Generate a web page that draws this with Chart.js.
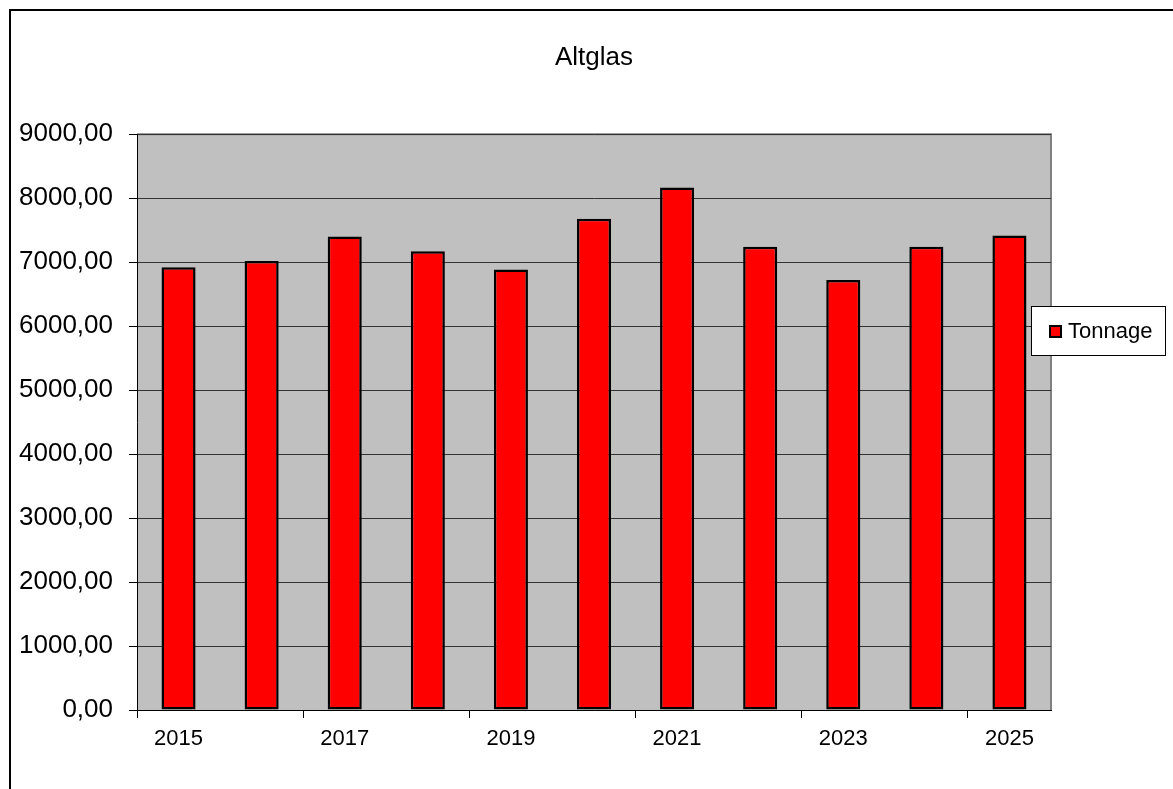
<!DOCTYPE html>
<html>
<head>
<meta charset="utf-8">
<title>Altglas</title>
<script src="https://cdn.jsdelivr.net/npm/chart.js@4.4.1/dist/chart.umd.min.js"></script>
<style>
  html, body { margin: 0; padding: 0; background: #fff; overflow: hidden; }
  #wrap { position: absolute; left: 0; top: 0; width: 1173px; height: 789px; }
</style>
</head>
<body>
<div id="wrap"><canvas id="chart"></canvas></div>
<script>
// Daten
const jahre = ['2015', '2016', '2017', '2018', '2019', '2020', '2021', '2022', '2023', '2024', '2025'];
const tonnage = [6920, 7020, 7400, 7170, 6885, 7680, 8165, 7240, 6720, 7240, 7415];
const yTicks = [0, 1000, 2000, 3000, 4000, 5000, 6000, 7000, 8000, 9000];

const schrift = "'Liberation Sans', Arial, sans-serif";

// Grauer Zeichenbereich + Rahmen
const hintergrund = {
    id: 'hintergrund',
    beforeDraw(chart) {
        const { ctx, chartArea: a } = chart;
        ctx.save();
        ctx.fillStyle = '#fff';
        ctx.fillRect(0, 0, chart.width, chart.height);
        ctx.strokeStyle = '#000';
        ctx.lineWidth = 2;
        ctx.strokeRect(10, 10, 3000, 3000);
        ctx.fillStyle = '#C0C0C0';
        ctx.fillRect(a.left, a.top, a.right - a.left, a.bottom - a.top);
        ctx.strokeStyle = '#808080';
        ctx.lineWidth = 2;
        ctx.beginPath();
        ctx.moveTo(a.left, a.top);
        ctx.lineTo(a.right, a.top);
        ctx.lineTo(a.right, a.bottom);
        ctx.stroke();
        ctx.restore();
    }
};

// Legende mit Rahmen rechts
const legende = {
    id: 'legende',
    afterDraw(chart) {
        const { ctx } = chart;
        const ds = chart.data.datasets[0];
        ctx.save();
        ctx.fillStyle = '#fff';
        ctx.fillRect(1031, 306, 135, 50);
        ctx.strokeStyle = '#000';
        ctx.lineWidth = 1;
        ctx.strokeRect(1031.5, 306.5, 134, 49);
        ctx.fillStyle = ds.backgroundColor;
        ctx.fillRect(1049, 325, 13, 13);
        ctx.lineWidth = 2;
        ctx.strokeRect(1050, 326, 11, 11);
        ctx.fillStyle = '#000';
        ctx.font = '22px ' + schrift;
        ctx.textBaseline = 'middle';
        ctx.fillText(ds.label, 1068, 332);
        ctx.restore();
    }
};

new Chart(document.getElementById('chart').getContext('2d'), {
    type: 'bar',
    data: {
        labels: jahre,
        datasets: [{
            label: 'Tonnage',
            data: tonnage,
            backgroundColor: '#FF0000',
            borderColor: '#000000',
            borderWidth: 2.5,
            borderSkipped: false,
            barPercentage: 1,
            categoryPercentage: 0.41
        }]
    },
    options: {
        responsive: true,
        maintainAspectRatio: false,
        animation: false,
        layout: { padding: { left: 0, right: 122, top: 0, bottom: 0 } },
        plugins: {
            legend: { display: false },
            tooltip: { enabled: false },
            title: {
                display: true,
                text: 'Altglas',
                fullSize: false,
                color: '#000',
                font: { family: schrift, size: 26, weight: 'normal' },
                padding: { top: 42, bottom: 61 }
            }
        },
        scales: {
            x: {
                offset: true,
                afterFit(scale) { scale.height = 79; },
                grid: {
                    offset: true,
                    drawOnChartArea: false,
                    tickLength: 8,
                    tickColor: (c) => (c.index % 2 === 0 ? '#000' : 'rgba(0,0,0,0)')
                },
                border: { color: '#000', width: 1 },
                ticks: {
                    autoSkip: false,
                    maxRotation: 0,
                    padding: 8,
                    color: '#000',
                    font: { family: schrift, size: 22 },
                    callback: (v, i) => (i % 2 === 0 ? jahre[i] : '')
                }
            },
            y: {
                min: yTicks[0],
                max: yTicks[yTicks.length - 1],
                afterFit(scale) { scale.width = 137; },
                afterBuildTicks(scale) { scale.ticks = yTicks.map(v => ({ value: v })); },
                grid: { color: '#333333', lineWidth: 1, tickLength: 8, tickColor: '#000' },
                border: { color: '#000', width: 1 },
                ticks: {
                    padding: 16,
                    color: '#000',
                    font: { family: schrift, size: 26 },
                    callback: (v) => v.toFixed(2).replace('.', ',')
                }
            }
        }
    },
    plugins: [hintergrund, legende]
});
</script>
</body>
</html>
